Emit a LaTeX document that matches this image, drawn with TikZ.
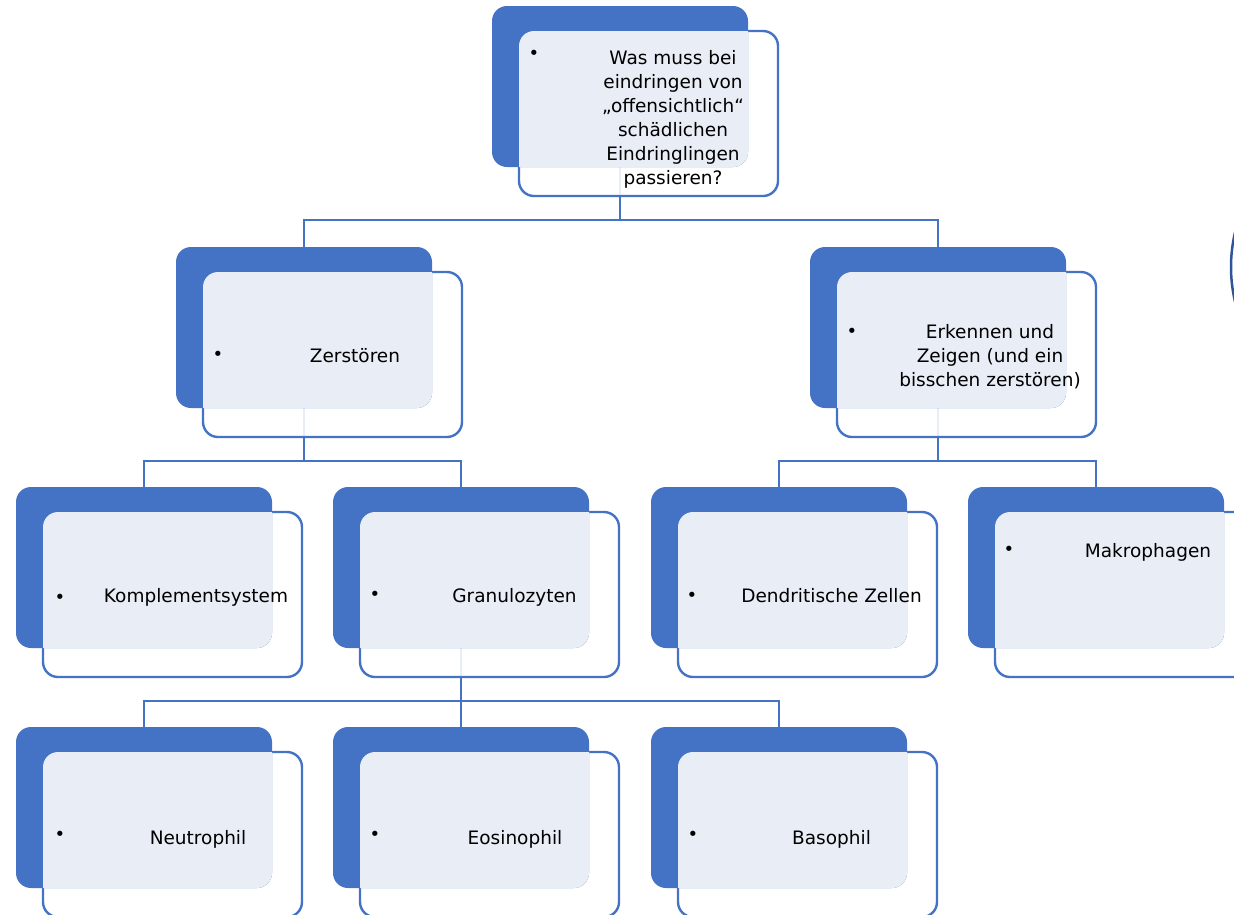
\documentclass[tikz,border=0pt]{standalone}
\usepackage{fontspec}
\setmainfont{DejaVu Sans}
\usetikzlibrary{backgrounds}
\definecolor{accent}{HTML}{4472C4}
\definecolor{lightfill}{HTML}{E9EDF6}
\definecolor{arcblue}{HTML}{2F5597}
\tikzset{
  backbox/.style={fill=accent, draw=none, rounded corners=15pt, minimum width=256pt, minimum height=161pt, inner sep=0pt, outer sep=0pt},
  framebox/.style={fill=white, fill opacity=0.88, draw=accent, draw opacity=1, line width=2.4pt, rounded corners=15pt, minimum width=259pt, minimum height=165pt, inner sep=0pt, outer sep=0pt},
  conn/.style={draw=accent, line width=2.6pt},
  lbl/.style={font=\fontsize{18.5}{24}\selectfont, inner sep=0pt, anchor=base, align=center, text=black},
  bul/.style={font=\fontsize{18}{18}\selectfont, inner sep=0pt, anchor=base, text=black}
}
\newcommand{\hunit}[3]{%
  \node[framebox] (#1f) at (#2+156.5,#3+107.5) {};
  \node[backbox] (#1) at (#2+128,#3+80.5) {};
  \begin{scope}
    \clip[rounded corners=15pt] (#2,#3) rectangle ++(256,161);
    \fill[lightfill, rounded corners=15pt] (#2+27,#3+25) rectangle ++(259,165);
  \end{scope}
}
\begin{document}
\begin{tikzpicture}[x=1pt,y=-1pt]
\useasboundingbox (0,0) rectangle (1234,914);
\clip (0,0) rectangle (1234,914);

\hunit{top}{492}{6}
\hunit{zer}{176}{247}
\hunit{erk}{810}{247}
\hunit{kom}{16}{487}
\hunit{gra}{333}{487}
\hunit{den}{651}{487}
\hunit{mak}{968}{487}
\hunit{neu}{16}{727}
\hunit{eos}{333}{727}
\hunit{bas}{651}{727}

\coordinate (b1) at (0,220);
\coordinate (b2) at (0,461);
\coordinate (b3) at (0,701);

\begin{scope}[on background layer]
  \draw[conn] (top.center) -- (top.center |- b1) -| (zer.north);
  \draw[conn] (top.center |- b1) -| (erk.north);
  \draw[conn] (zer.center) -- (zer.center |- b2) -| (kom.north);
  \draw[conn] (zer.center |- b2) -| (gra.north);
  \draw[conn] (erk.center) -- (erk.center |- b2) -| (den.north);
  \draw[conn] (erk.center |- b2) -| (mak.north);
  \draw[conn] (gra.center) -- (gra.center |- b3) -| (neu.north);
  \draw[conn] (gra.center |- b3) -| (eos.north);
  \draw[conn] (gra.center |- b3) -| (bas.north);
\end{scope}

% texts (base anchor = baseline of last line)
\node[lbl] (t-top) at (673,184) {Was muss bei\\eindringen von\\„offensichtlich“\\schädlichen\\Eindringlingen\\passieren?};
\node[lbl] (t-zer) at (355,362) {Zerstören};
\node[lbl] (t-erk) at (990,386) {Erkennen und\\Zeigen (und ein\\bisschen zerstören)};
\node[lbl] (t-kom) at (196,602) {Komplementsystem};
\node[lbl] (t-gra) at (514.5,602) {Granulozyten};
\node[lbl] (t-den) at (831.5,602) {Dendritische Zellen};
\node[lbl] (t-mak) at (1148,557) {Makrophagen};
\node[lbl] (t-neu) at (198,844) {Neutrophil};
\node[lbl] (t-eos) at (515,844) {Eosinophil};
\node[lbl] (t-bas) at (831.5,844) {Basophil};

% bullets
\node[bul] (u-top) at (534,59.5) {•};
\node[bul] (u-zer) at (218,360.5) {•};
\node[bul] (u-erk) at (852,337.5) {•};
\node[bul] (u-kom) at (60,603) {•};
\node[bul] (u-gra) at (375,600.5) {•};
\node[bul] (u-den) at (692,601.5) {•};
\node[bul] (u-mak) at (1009,555.5) {•};
\node[bul] (u-neu) at (60,840.5) {•};
\node[bul] (u-eos) at (375,840.5) {•};
\node[bul] (u-bas) at (693,840.5) {•};

% partial circle at right edge
\draw[arcblue, line width=2.5pt] (1381,267) circle (150pt);
\end{tikzpicture}
\end{document}
